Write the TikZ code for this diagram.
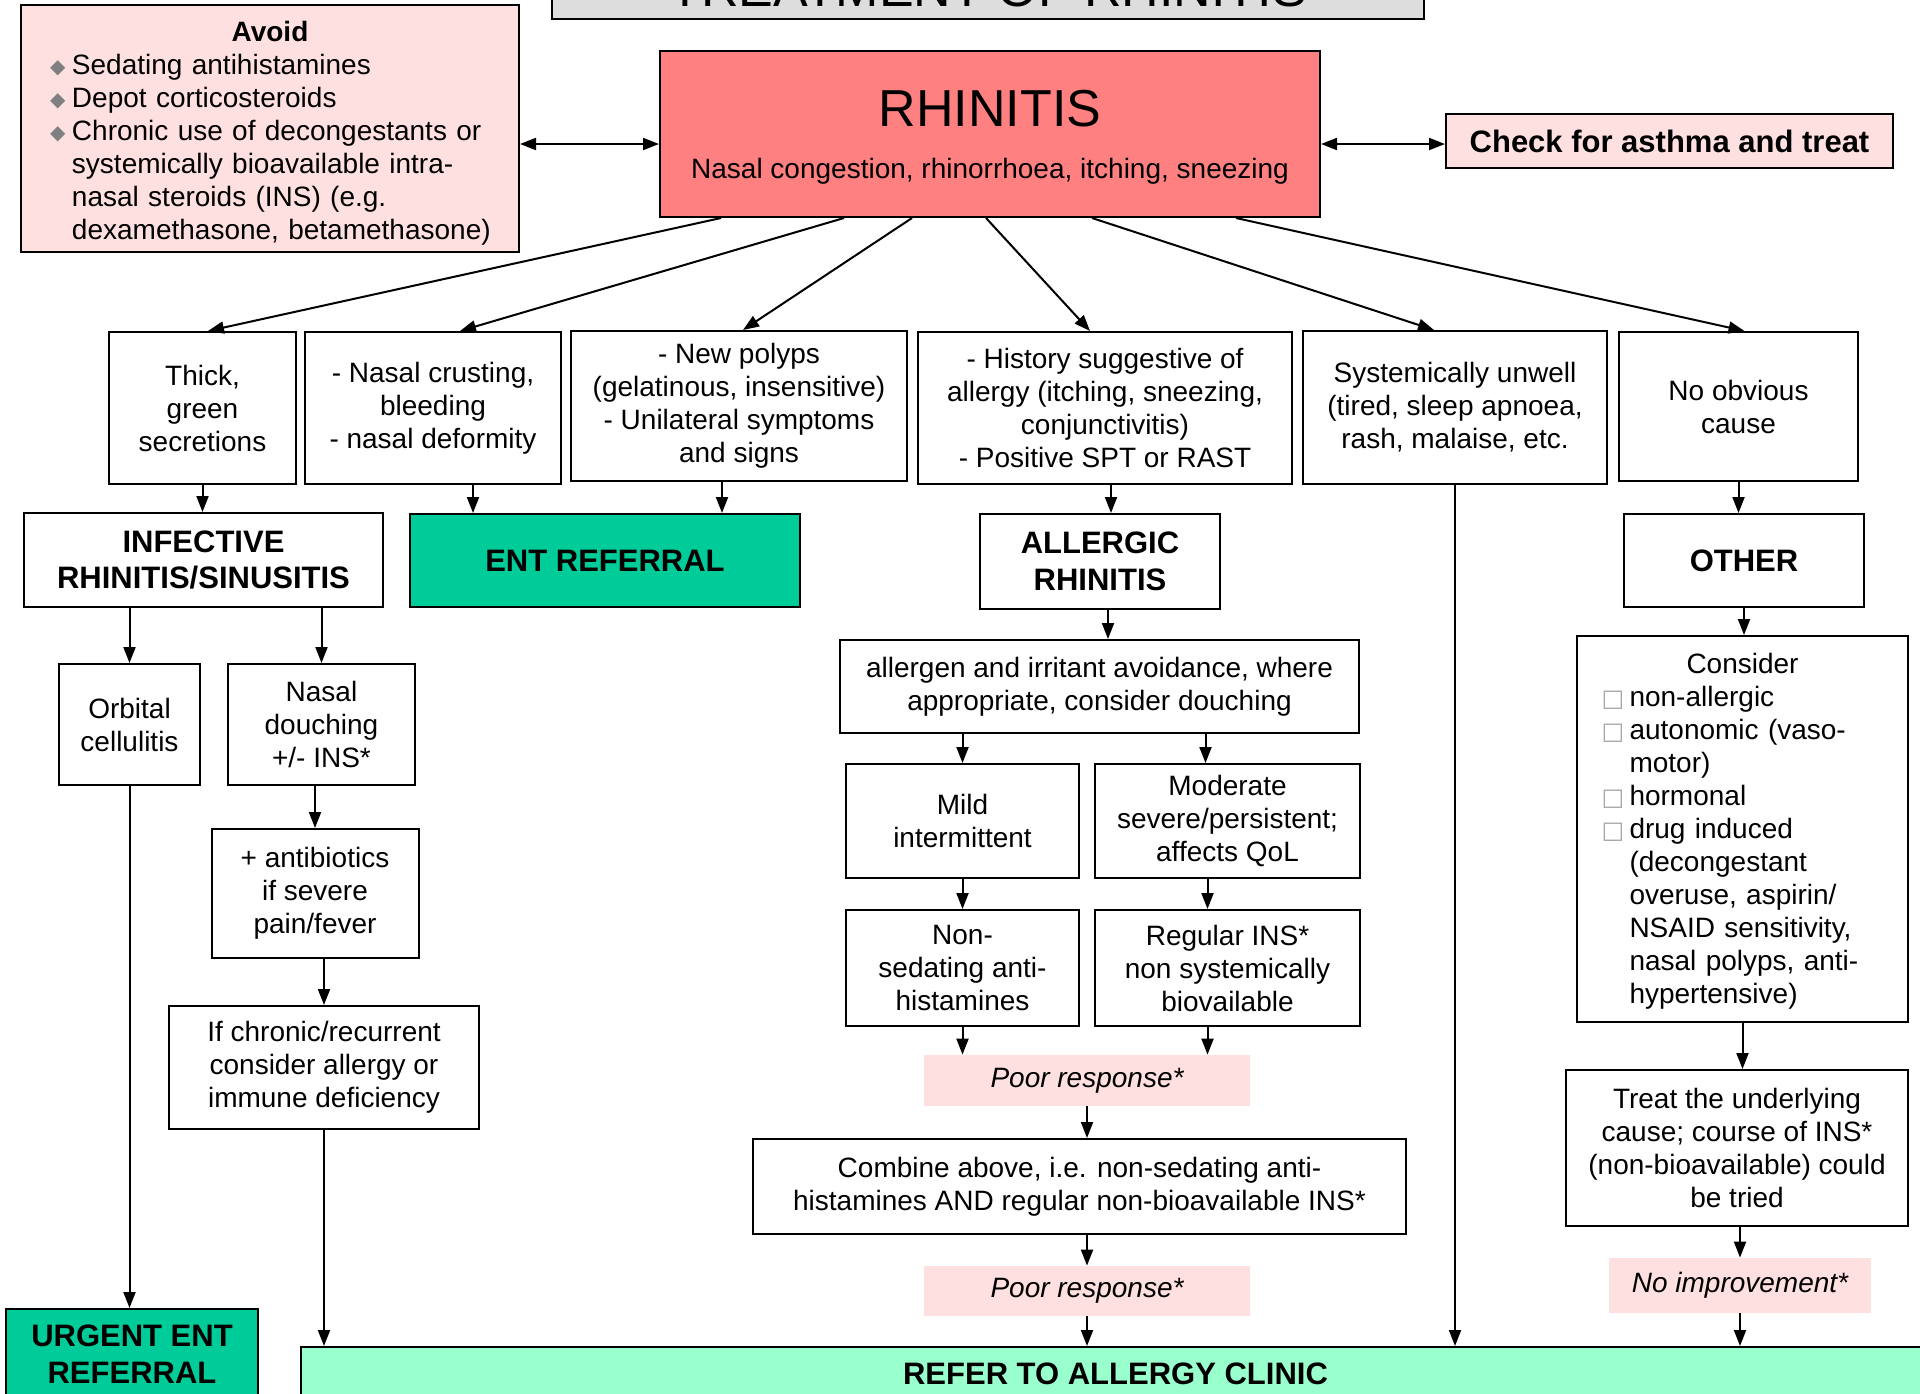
\documentclass[tikz,border=0pt]{standalone}
\usepackage{fontspec}
\setmainfont{Liberation Sans}
\newfontfamily\symfont{DejaVu Sans}
\usetikzlibrary{arrows.meta,calc}
\setlength{\parindent}{0pt}

\definecolor{rhinred}{HTML}{FF8080}
\definecolor{pinkbg}{HTML}{FFE0E0}
\definecolor{entgreen}{HTML}{00CC99}
\definecolor{clinicgreen}{HTML}{99FFCC}
\definecolor{titlegray}{HTML}{DDDDDD}

\newcommand\bul{\hspace*{6pt}\makebox[11pt][l]{\raisebox{0.5pt}{\symfont\fontsize{10}{10}\selectfont\color{gray}◆}}}
\newcommand\cont{\hspace*{17pt}}
\newcommand\chk{\makebox[14pt][l]{\symfont\fontsize{12}{12}\selectfont\color{gray!70}□}}
\newcommand\chkc{\hspace*{14pt}}

\begin{document}
\begin{tikzpicture}[x=0.5pt, y=-0.5pt,
    every node/.style={font=\fontsize{14}{16.5}\selectfont},
    box/.style={draw, line width=1pt, align=center, inner sep=2pt},
    wh/.style 2 args={minimum width=#1*0.5pt, minimum height=#2*0.5pt},
    bold/.style={font=\fontsize{15.5}{18.4}\selectfont\bfseries},
    pink/.style={fill=pinkbg, align=center, inner sep=2pt, font=\fontsize{14}{16.5}\selectfont\itshape},
    arr/.style={line width=1pt, -{Triangle[length=8pt,width=6pt]}},
    darr/.style={line width=1pt, {Triangle[length=8pt,width=6pt]}-{Triangle[length=8pt,width=6pt]}}]
    \useasboundingbox (0,0) rectangle (1920,1393);

    \node[box, wh={872}{60}, fill=titlegray, font=\fontsize{26}{26}\selectfont] (title) at (988,-11) {TREATMENT OF RHINITIS};

    \node[box, wh={498}{247}, fill=pinkbg, align=left, text width=232pt, inner xsep=8.5pt] (avoid) at (270,128.5)
        {{\centering\rule{0pt}{15pt}\bfseries Avoid\par}\bul Sedating antihistamines\\ \bul Depot corticosteroids\\ \bul Chronic use of decongestants or\\ \cont systemically bioavailable intra-\\ \cont nasal steroids (INS) (e.g.\\ \cont dexamethasone, betamethasone)};
    \node[box, wh={660}{166}, fill=rhinred] (rhin) at (990,134)
        {{\fontsize{26}{26}\selectfont\rule{0pt}{21.6pt}RHINITIS}\\[9.5pt] Nasal congestion, rhinorrhoea, itching, sneezing};
    \node[box, wh={447}{54}, fill=pinkbg, bold] (check) at (1669.5,141) {Check for asthma and treat};

    \node[box, wh={187}{152}] (thick) at (202.5,408) {Thick,\\ green\\ secretions};
    \node[box, wh={256}{152}] (crust) at (433,408) {- Nasal crusting,\\ bleeding\\ - nasal deformity};
    \node[box, wh={336}{150}] (polyp) at (739,406) {- New polyps\\ (gelatinous, insensitive)\\ - Unilateral symptoms\\ and signs};
    \node[box, wh={374}{152}] (hist) at (1105,408) {- History suggestive of\\ allergy (itching, sneezing,\\ conjunctivitis)\\ - Positive SPT or RAST};
    \node[box, wh={304}{153}] (unwell) at (1455,407.5) {Systemically unwell\\ (tired, sleep apnoea,\\ rash, malaise, etc.};
    \node[box, wh={239}{149}] (noobv) at (1738.5,406.5) {No obvious\\ cause};

    \node[box, wh={359}{94}, bold] (infect) at (203.5,560) {INFECTIVE\\ RHINITIS/SINUSITIS};
    \node[box, wh={390}{93}, bold, fill=entgreen] (ent) at (605,560.5) {ENT REFERRAL};
    \node[box, wh={240}{95}, bold] (allerg) at (1100,561.5) {ALLERGIC\\ RHINITIS};
    \node[box, wh={240}{93}, bold] (other) at (1744,560.5) {OTHER};

    \node[box, wh={141}{121}] (orbit) at (129.5,724.5) {Orbital\\ cellulitis};
    \node[box, wh={187}{121}] (douch) at (321.5,724.5) {Nasal\\ douching\\ +/- INS*};
    \node[box, wh={207}{129}] (antib) at (315,893.5) {+ antibiotics\\ if severe\\ pain/fever};
    \node[box, wh={310}{123}] (chron) at (324,1067.5) {If chronic/recurrent\\ consider allergy or\\ immune deficiency};
    \node[box, wh={252}{91}, bold, fill=entgreen] (urgent) at (132,1354.5) {URGENT ENT\\ REFERRAL};
    \node[box, wh={1629}{54}, bold, fill=clinicgreen] (clinic) at (1115.5,1374) {REFER TO ALLERGY CLINIC};

    \node[box, wh={519}{93}] (irrit) at (1099.5,686.5) {allergen and irritant avoidance, where\\ appropriate, consider douching};
    \node[box, wh={233}{114}] (mild) at (962.5,821) {Mild\\ intermittent};
    \node[box, wh={265}{114}] (moder) at (1227.5,821) {Moderate\\ severe/persistent;\\ affects QoL};
    \node[box, wh={233}{116}] (nonsed) at (962.5,968) {Non-\\ sedating anti-\\ histamines};
    \node[box, wh={265}{116}] (regins) at (1227.5,968) {Regular INS*\\ non systemically\\ biovailable};
    \node[pink, wh={326}{51}] (poor1) at (1087,1080.5) {Poor response*};
    \node[box, wh={653}{95}] (combine) at (1079.5,1186.5) {Combine above, i.e. non-sedating anti-\\ histamines AND regular non-bioavailable INS*};
    \node[pink, wh={326}{50}] (poor2) at (1087,1291) {Poor response*};

    \node[box, wh={331}{386}, align=left, text width=141pt, inner xsep=12pt] (consid) at (1742.5,829)
        {{\centering\rule{0pt}{12.7pt}Consider\par}\chk non-allergic\\ \chk autonomic (vaso-\\ \chkc motor)\\ \chk hormonal\\ \chk drug induced\\ \chkc (decongestant\\ \chkc overuse, aspirin/\\ \chkc NSAID sensitivity,\\ \chkc nasal polyps, anti-\\ \chkc hypertensive)};
    \node[box, wh={342}{156}] (treat) at (1737,1148) {Treat the underlying\\ cause; course of INS*\\ (non-bioavailable) could\\ be tried};
    \node[pink, wh={262}{55}] (noimp) at (1740,1285.5) {No improvement*};

    \draw[darr] ($(avoid.east)+(0,15.5)$) -- ($(rhin.west)+(0,10)$);
    \draw[darr] ($(rhin.east)+(0,10)$) -- ($(check.west)+(0,3)$);

    \draw[arr] ($(rhin.south west)+(62,0)$) -- ($(thick.north)+(5.5,0)$);
    \draw[arr] ($(rhin.south west)+(185,0)$) -- ($(crust.north)+(27,0)$);
    \draw[arr] ($(rhin.south west)+(253,0)$) -- ($(polyp.north)+(4,0)$);
    \draw[arr] ($(rhin.south west)+(327,0)$) -- ($(hist.north)+(-15,0)$);
    \draw[arr] ($(rhin.south west)+(433,0)$) -- ($(unwell.north)+(-21,0)$);
    \draw[arr] ($(rhin.south west)+(577,0)$) -- ($(noobv.north)+(6,0)$);

    \draw[arr] (thick.south) -- (thick.south |- infect.north);
    \draw[arr] ($(crust.south)+(40,0)$) -- ($(ent.north)+(-132,0)$);
    \draw[arr] ($(polyp.south)+(-17,0)$) -- ($(ent.north)+(117,0)$);
    \draw[arr] ($(hist.south)+(6,0)$) -- ($(hist.south |- allerg.north)+(6,0)$);
    \draw[arr] (noobv.south) -- (noobv.south |- other.north);
    \draw[arr] (unwell.south) -- (unwell.south |- clinic.north);

    \draw[arr] (orbit.north |- infect.south) -- (orbit.north);
    \draw[arr] (douch.north |- infect.south) -- (douch.north);
    \draw[arr] (antib.north |- douch.south) -- (antib.north);
    \draw[arr] (chron.north |- antib.south) -- (chron.north);
    \draw[arr] (orbit.south) -- (orbit.south |- urgent.north);
    \draw[arr] (chron.south) -- (chron.south |- clinic.north);

    \draw[arr] ($(allerg.south)+(8,0)$) -- ($(allerg.south |- irrit.north)+(8,0)$);
    \draw[arr] (mild.north |- irrit.south) -- (mild.north);
    \draw[arr] ($(moder.north |- irrit.south)+(-22,0)$) -- ($(moder.north)+(-22,0)$);
    \draw[arr] (mild.south) -- (mild.south |- nonsed.north);
    \draw[arr] ($(moder.south)+(-20,0)$) -- ($(regins.north)+(-20,0)$);
    \draw[arr] (nonsed.south) -- (nonsed.south |- poor1.north);
    \draw[arr] ($(regins.south)+(-20,0)$) -- ($(regins.south |- poor1.north)+(-20,0)$);
    \draw[arr] (poor1.south) -- (poor1.south |- combine.north);
    \draw[arr] (combine.south -| poor2.north) -- (poor2.north);
    \draw[arr] (poor2.south) -- (poor2.south |- clinic.north);

    \draw[arr] (other.south) -- (other.south |- consid.north);
    \draw[arr] (consid.south) -- (consid.south |- treat.north);
    \draw[arr] (noimp.north |- treat.south) -- (noimp.north);
    \draw[arr] (noimp.south) -- (noimp.south |- clinic.north);
\end{tikzpicture}
\end{document}
